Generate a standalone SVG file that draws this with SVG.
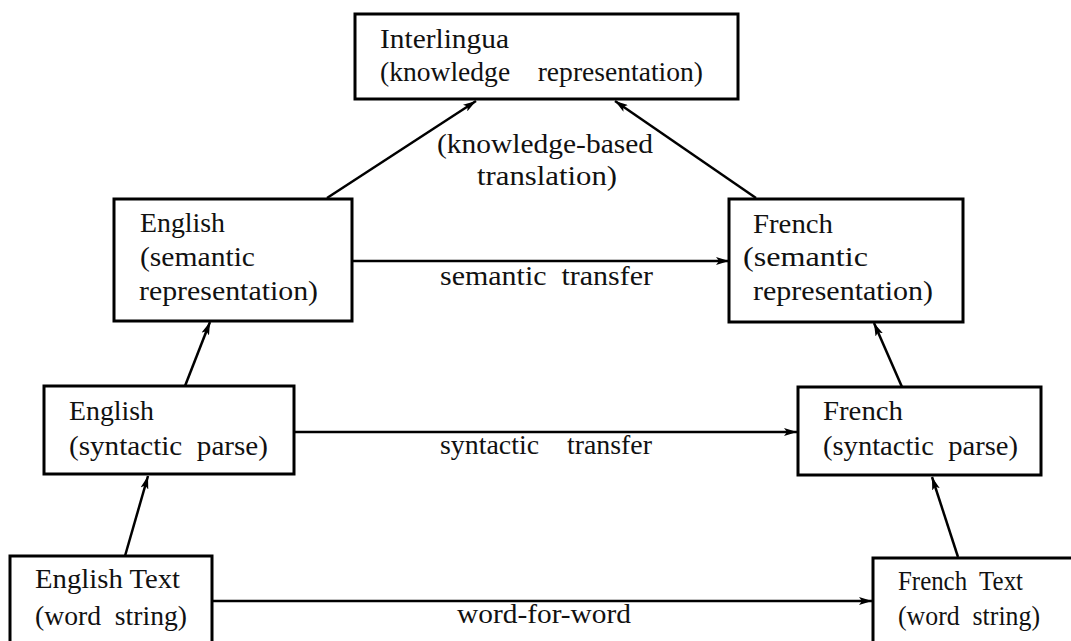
<svg xmlns="http://www.w3.org/2000/svg" width="1071" height="641" viewBox="0 0 1071 641">
<style>
.box{fill:#fff;stroke:#000;stroke-width:3}
text{font-family:'Liberation Serif','Times New Roman',Times,serif;font-size:27px;fill:#111;white-space:pre}
.c{stroke:#000;stroke-width:2.5;fill:none}
</style>
<defs>
<marker id="ah" markerUnits="userSpaceOnUse" markerWidth="13" markerHeight="8" refX="13" refY="4" orient="auto">
<path d="M0,0 L13,4 L0,8 L3,4 z" fill="#000"/>
</marker>
</defs>
<rect width="1071" height="641" fill="#fff"/>
<g id="connectors">
<line class="c" x1="327" y1="198" x2="476" y2="101" marker-end="url(#ah)"/>
<line class="c" x1="756" y1="198" x2="615" y2="101" marker-end="url(#ah)"/>
<line class="c" x1="352" y1="261" x2="729" y2="261" marker-end="url(#ah)"/>
<line class="c" x1="185" y1="386" x2="210" y2="322" marker-end="url(#ah)"/>
<line class="c" x1="902" y1="387" x2="874" y2="323" marker-end="url(#ah)"/>
<line class="c" x1="294" y1="432" x2="797" y2="432" marker-end="url(#ah)"/>
<line class="c" x1="125" y1="556" x2="148" y2="476" marker-end="url(#ah)"/>
<line class="c" x1="958" y1="557" x2="932" y2="477" marker-end="url(#ah)"/>
<line class="c" x1="212" y1="601" x2="872" y2="601" marker-end="url(#ah)"/>
<text x="437" y="153" textLength="216" lengthAdjust="spacingAndGlyphs">(knowledge-based</text>
<text x="477" y="185" textLength="140" lengthAdjust="spacingAndGlyphs">translation)</text>
<text x="440" y="285" textLength="213" lengthAdjust="spacingAndGlyphs">semantic  transfer</text>
<text x="440" y="454" textLength="212" lengthAdjust="spacingAndGlyphs">syntactic    transfer</text>
<text x="457" y="623" textLength="174" lengthAdjust="spacingAndGlyphs">word-for-word</text>
</g>
<g id="interlingua">
<rect class="box" x="355" y="14" width="383" height="85"/>
<text x="380" y="48" textLength="129" lengthAdjust="spacingAndGlyphs">Interlingua</text>
<text x="380" y="81" textLength="323" lengthAdjust="spacingAndGlyphs">(knowledge    representation)</text>
</g>
<g id="english-semantic">
<rect class="box" x="114" y="199" width="238" height="122"/>
<text x="140" y="232" textLength="85" lengthAdjust="spacingAndGlyphs">English</text>
<text x="140" y="266" textLength="115" lengthAdjust="spacingAndGlyphs">(semantic</text>
<text x="139" y="300" textLength="179" lengthAdjust="spacingAndGlyphs">representation)</text>
</g>
<g id="french-semantic">
<rect class="box" x="729" y="199" width="234" height="123"/>
<text x="753" y="233" textLength="80" lengthAdjust="spacingAndGlyphs">French</text>
<text x="743" y="266" textLength="125" lengthAdjust="spacingAndGlyphs">(semantic</text>
<text x="753" y="300" textLength="180" lengthAdjust="spacingAndGlyphs">representation)</text>
</g>
<g id="english-syntactic">
<rect class="box" x="44" y="386" width="250" height="88"/>
<text x="69" y="420" textLength="85" lengthAdjust="spacingAndGlyphs">English</text>
<text x="69" y="455" textLength="199" lengthAdjust="spacingAndGlyphs">(syntactic  parse)</text>
</g>
<g id="french-syntactic">
<rect class="box" x="798" y="387" width="243" height="88"/>
<text x="823" y="420" textLength="80" lengthAdjust="spacingAndGlyphs">French</text>
<text x="823" y="455" textLength="195" lengthAdjust="spacingAndGlyphs">(syntactic  parse)</text>
</g>
<g id="english-text">
<rect class="box" x="10" y="556" width="202" height="100"/>
<text x="35" y="588" textLength="145" lengthAdjust="spacingAndGlyphs">English Text</text>
<text x="35" y="625" textLength="152" lengthAdjust="spacingAndGlyphs">(word  string)</text>
</g>
<g id="french-text">
<rect class="box" x="873" y="558" width="220" height="100"/>
<text x="898" y="590" textLength="125" lengthAdjust="spacingAndGlyphs">French  Text</text>
<text x="898" y="625" textLength="142" lengthAdjust="spacingAndGlyphs">(word  string)</text>
</g>
</svg>
